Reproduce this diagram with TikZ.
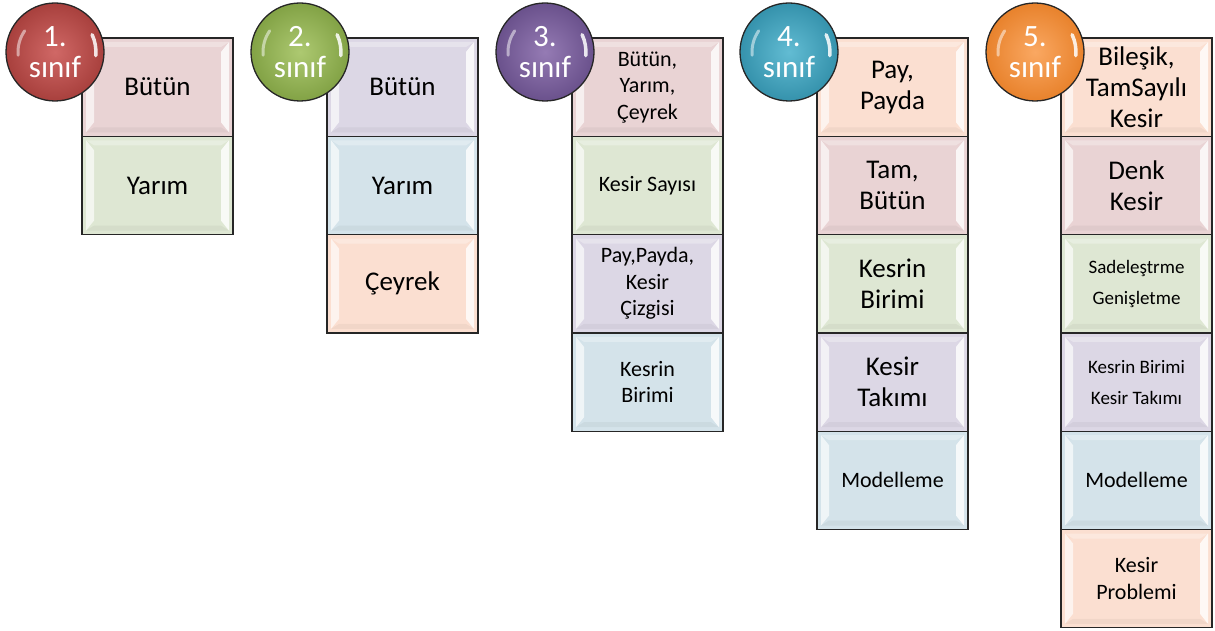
\documentclass[tikz,border=0pt]{standalone}
\usepackage{fontspec}
\setmainfont{Carlito}
\begin{document}
\begin{tikzpicture}[x=1pt,y=-1pt]
% cell fills
\definecolor{cpink}{HTML}{E9D3D4}
\definecolor{cgreen}{HTML}{DEE7D3}
\definecolor{clav}{HTML}{DCD7E5}
\definecolor{cblue}{HTML}{D4E3EA}
\definecolor{cpeach}{HTML}{FBDFD1}
% ball colours
\definecolor{rA}{HTML}{D06866}\definecolor{rB}{HTML}{A8403D}
\definecolor{gA}{HTML}{ADC971}\definecolor{gB}{HTML}{82A245}
\definecolor{pA}{HTML}{957BB4}\definecolor{pB}{HTML}{6A518C}
\definecolor{bA}{HTML}{62BCD3}\definecolor{bB}{HTML}{3592AC}
\definecolor{oA}{HTML}{FAA862}\definecolor{oB}{HTML}{E8822C}
\tikzset{
  cell/.style={draw=black!85, line width=1.3pt, minimum width=151pt,
    minimum height=98.3pt, inner sep=0pt, align=center,
    font=\fontsize{27}{31}\selectfont,
    path picture={
      \fill[white,opacity=0.65]
        ([shift={(4pt,-4pt)}]path picture bounding box.north west) --
        ([shift={(12pt,-14pt)}]path picture bounding box.north west) --
        ([shift={(12pt,14pt)}]path picture bounding box.south west) --
        ([shift={(4pt,4pt)}]path picture bounding box.south west) -- cycle;
      \fill[white,opacity=0.8]
        ([shift={(-4pt,-4pt)}]path picture bounding box.north east) --
        ([shift={(-12pt,-14pt)}]path picture bounding box.north east) --
        ([shift={(-12pt,14pt)}]path picture bounding box.south east) --
        ([shift={(-4pt,4pt)}]path picture bounding box.south east) -- cycle;
      \fill[white,opacity=0.3]
        ([shift={(4pt,-4pt)}]path picture bounding box.north west) --
        ([shift={(-4pt,-4pt)}]path picture bounding box.north east) --
        ([shift={(-12pt,-9pt)}]path picture bounding box.north east) --
        ([shift={(12pt,-9pt)}]path picture bounding box.north west) -- cycle;
      \fill[black,opacity=0.04]
        ([shift={(4pt,4pt)}]path picture bounding box.south west) --
        ([shift={(-4pt,4pt)}]path picture bounding box.south east) --
        ([shift={(-12pt,9pt)}]path picture bounding box.south east) --
        ([shift={(12pt,9pt)}]path picture bounding box.south west) -- cycle;
    }},
  small/.style={font=\fontsize{22}{26.5}\selectfont},
  tiny/.style={font=\fontsize{19}{31}\selectfont},
  ball/.style n args={2}{circle, minimum size=98pt, inner sep=0pt,
    draw=black!85, line width=1.3pt, inner color=#1, outer color=#2,
    text=white, align=center, font=\fontsize{31}{31}\selectfont,
    path picture={
      % soft streak on the left
      \draw[white,opacity=0.5,line width=3pt,line cap=round]
        ([shift={(-30.3pt,21.2pt)}]path picture bounding box.center)
        arc[start angle=145,end angle=185,radius=37pt];
      % bright crescent on the right
      \draw[white,opacity=0.85,line width=3.5pt,line cap=round]
        ([shift={(40.8pt,-3.6pt)}]path picture bounding box.center)
        arc[start angle=-5,end angle=25,radius=41pt];
    }}
}
\useasboundingbox (0,0) rectangle (1215,631);

% column 1
\node[cell,fill=cpink]  (c11) at (157.5,87.15) {Bütün};
\node[cell,fill=cgreen] (c12) at (157.5,185.45) {Yarım};
% column 2
\node[cell,fill=clav]   (c21) at (402.5,87.15) {Bütün};
\node[cell,fill=cblue]  (c22) at (402.5,185.45) {Yarım};
\node[cell,fill=cpeach] (c23) at (402.5,283.75) {Çeyrek};
% column 3
\node[cell,small,fill=cpink]  (c31) at (647.5,87.15) {Bütün,\\Yarım,\\Çeyrek};
\node[cell,small,fill=cgreen] (c32) at (647.5,185.45) {Kesir Sayısı};
\node[cell,small,fill=clav]   (c33) at (647.5,283.75) {Pay,Payda,\\Kesir\\Çizgisi};
\node[cell,small,fill=cblue]  (c34) at (647.5,382.05) {Kesrin\\Birimi};
% column 4
\node[cell,fill=cpeach] (c41) at (892.5,87.15) {Pay,\\Payda};
\node[cell,fill=cpink]  (c42) at (892.5,185.45) {Tam,\\Bütün};
\node[cell,fill=cgreen] (c43) at (892.5,283.75) {Kesrin\\Birimi};
\node[cell,fill=clav]   (c44) at (892.5,382.05) {Kesir\\Takımı};
\node[cell,small,fill=cblue] (c45) at (892.5,480.35) {Modelleme};
% column 5
\node[cell,fill=cpeach] (c51) at (1136.5,87.15) {Bileşik,\\TamSayılı\\Kesir};
\node[cell,fill=cpink]  (c52) at (1136.5,185.45) {Denk\\Kesir};
\node[cell,tiny,fill=cgreen] (c53) at (1136.5,283.75) {Sadeleştrme\\Genişletme};
\node[cell,tiny,fill=clav]   (c54) at (1136.5,382.05) {Kesrin Birimi\\Kesir Takımı};
\node[cell,small,fill=cblue] (c55) at (1136.5,480.35) {Modelleme};
\node[cell,small,fill=cpeach] (c56) at (1136.5,578.65) {Kesir\\Problemi};

% grade badges
\node[ball={rA}{rB}] (b1) at (55,52) {1.\\sınıf};
\node[ball={gA}{gB}] (b2) at (300,52) {2.\\sınıf};
\node[ball={pA}{pB}] (b3) at (545,52) {3.\\sınıf};
\node[ball={bA}{bB}] (b4) at (789,52) {4.\\sınıf};
\node[ball={oA}{oB}] (b5) at (1035,52) {5.\\sınıf};
\end{tikzpicture}
\end{document}
